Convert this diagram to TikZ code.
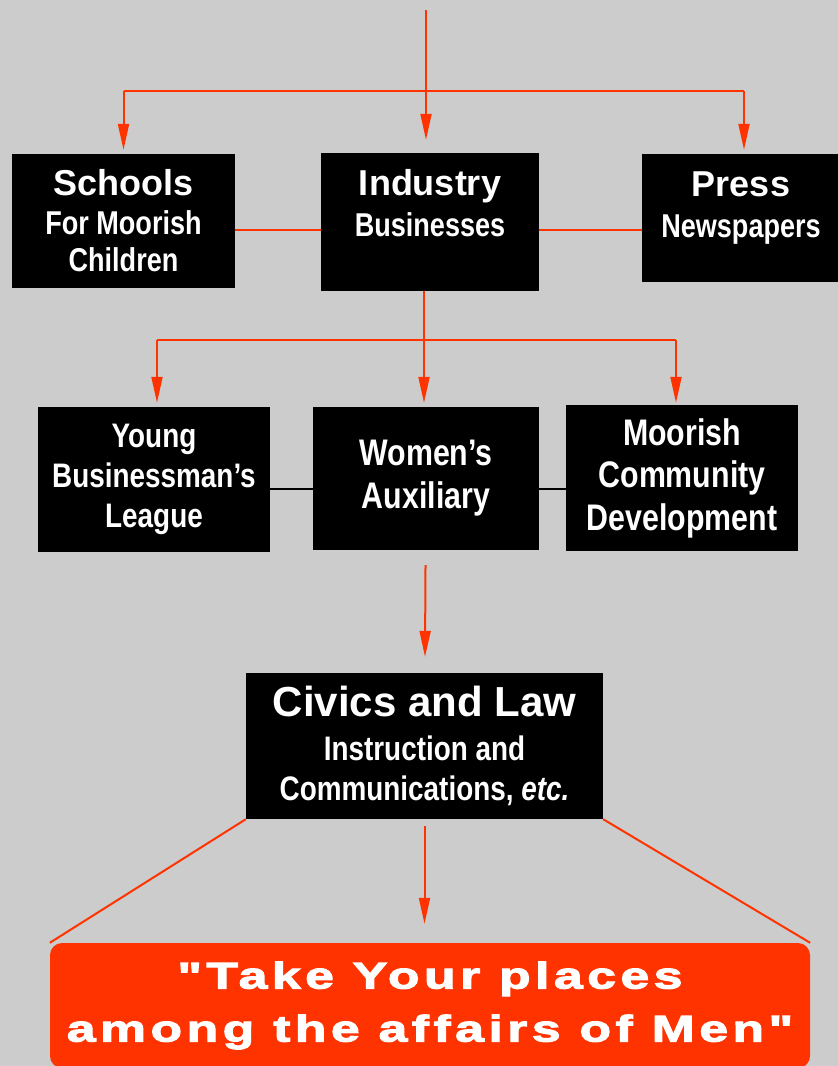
\documentclass[tikz,border=0pt]{standalone}
\usepackage{fontspec}
\setmainfont{Liberation Sans}
\newfontfamily\narrowfont{Liberation Sans}[FakeStretch=0.82]
\newfontfamily\widefont{Liberation Sans}[FakeStretch=1.4, LetterSpace=12, FakeBold=3]
\usetikzlibrary{arrows.meta, positioning, calc}
\definecolor{signred}{RGB}{255, 51, 0}
\definecolor{paper}{RGB}{204, 204, 204}

\newcommand{\boxtitle}[1]{{\fontsize{36}{40}\selectfont\bfseries #1}}
\newcommand{\boxsub}[1]{{\narrowfont\fontsize{33}{38}\selectfont\bfseries #1}}
\newcommand{\boxbig}[1]{{\narrowfont\fontsize{37}{42}\selectfont\bfseries #1}}

\tikzset{
  box/.style={fill=black, text=white, align=center, inner sep=0pt, font=\fontsize{33}{38}\selectfont},
  bigbox/.style={box, font=\fontsize{37}{42.5}\selectfont},
  flow/.style={draw=signred, line width=2pt, -{Triangle[length=26pt, width=11pt]}},
  link/.style={draw=signred, line width=2pt},
  tie/.style={draw=black, line width=2pt},
}

\begin{document}
\begin{tikzpicture}[x=1pt, y=-1pt]
  \fill[paper] (0,0) rectangle (838,1066);
  \useasboundingbox (0,0) rectangle (838,1066);

  % Top row
  \node[box, minimum width=223pt, minimum height=134pt] (schools) at (123.5,221)
    {\boxtitle{Schools}\\[1pt]\boxsub{For Moorish}\\[-1pt]\boxsub{Children}};
  \node[box, minimum width=218pt, minimum height=138pt] (industry) at (430,222)
    {\boxtitle{Industry}\\[3pt]\boxsub{Businesses}\\\boxsub{~}};
  \node[box, minimum width=198pt, minimum height=128pt] (press) at (741,218)
    {\boxtitle{Press}\\[3pt]\boxsub{Newspapers}\\[-12pt]\boxsub{~}};

  % Middle row
  \node[box, font=\fontsize{34}{40}\selectfont, minimum width=232pt, minimum height=145pt] (young) at (154,479.5)
    {\boxsub{\fontsize{34}{40}\selectfont Young}\\\boxsub{\fontsize{34}{40}\selectfont Businessman’s}\\\boxsub{\fontsize{34}{40}\selectfont League}};
  \node[bigbox, minimum width=226pt, minimum height=143pt] (women) at (426,478.5)
    {\boxbig{Women’s}\\[0.5pt]\boxbig{Auxiliary}};
  \node[bigbox, minimum width=232pt, minimum height=146pt] (moorish) at (682,478)
    {\boxbig{Moorish}\\\boxbig{Community}\\\boxbig{Development}};

  % Civics
  \node[box, font=\fontsize{34}{40}\selectfont, minimum width=357pt, minimum height=146pt] (civics) at (424.5,746)
    {{\fontsize{42}{46}\selectfont\bfseries Civics and Law}\\[4pt]\boxsub{\fontsize{34}{40}\selectfont Instruction and}\\\boxsub{\fontsize{34}{40}\selectfont Communications, \itshape etc.}};

  % Motto
  \node[fill=signred, text=white, rounded corners=12pt, align=center, inner sep=0pt,
        font=\widefont\bfseries\fontsize{37}{53}\selectfont,
        minimum width=760pt, minimum height=125pt] (motto) at (430,1005.5)
    {"Take Your places\\among the affairs of Men"};

  % Connectors
  \coordinate (top) at (426,10);
  \coordinate (split1) at (426,91);
  \coordinate (split2) at (424,340);
  \draw[flow, shorten >=13pt] (top) -- (industry.north -| top);
  \draw[link] (split1 -| schools) -- ([xshift=3pt]split1 -| press);
  \draw[flow] (split1 -| schools) -- ([yshift=4pt]schools.north);
  \draw[flow] ([xshift=3pt]split1 -| press) -- ([xshift=3pt,yshift=4pt]press.north);
  \draw[link] ([yshift=-9pt]schools.east) -- ([yshift=-9pt]schools.east -| industry.west);
  \draw[link] ([yshift=-9pt]schools.east -| industry.east) -- ([yshift=-9pt]schools.east -| press.west);

  \draw[flow, shorten >=4pt] (industry.south -| split2) -- (women.north -| split2);
  \draw[link] ([xshift=3pt]split2 -| young) -- ([xshift=-6pt]split2 -| moorish);
  \draw[flow, shorten >=4pt] ([xshift=3pt]split2 -| young) -- ([xshift=3pt]young.north);
  \draw[flow, shorten >=2pt] ([xshift=-6pt]split2 -| moorish) -- ([xshift=-6pt]moorish.north);
  \draw[tie] ([yshift=-9pt]young.east) -- ([yshift=-9pt]young.east -| women.west);
  \draw[tie] ([yshift=-9pt]young.east -| women.east) -- ([yshift=-9pt]young.east -| moorish.west);

  \draw[flow, shorten <=15pt, shorten >=16pt] (women) -- (civics);
  \draw[flow, shorten <=7pt, shorten >=19pt] (civics) -- (civics.south |- motto.north);
  \draw[link] (civics.south west) -- (motto.north west);
  \draw[link] (civics.south east) -- (motto.north east);
\end{tikzpicture}
\end{document}
